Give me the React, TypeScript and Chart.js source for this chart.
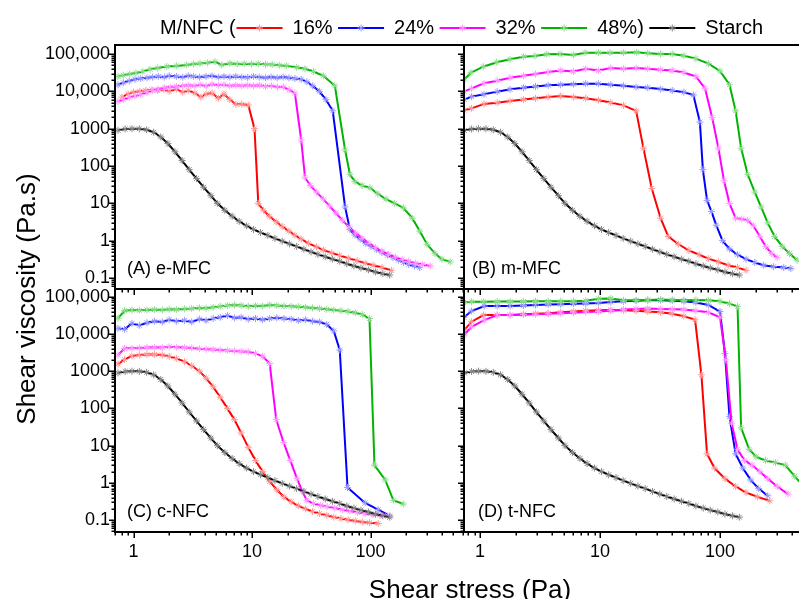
import React, { useEffect, useRef } from "react";
import { Chart, registerables } from "chart.js";

Chart.register(...registerables);

type Pt = [number, number];

const FONT = '"Liberation Sans", Arial, Helvetica, sans-serif';

const legendPrefix = "M/NFC (";
const seriesNames = ["16%", "24%", "32%", "48%)", "Starch"];
const seriesColors = ["#ff0000", "#0000ff", "#ff00ff", "#00b400", "#000000"];
const markerColors = ["#ff9a9a", "#9a9aff", "#ff9aff", "#8fdc8f", "#8a8a8a"];

const xTickValues = [1, 10, 100];
const xTickLabels = ["1", "10", "100"];
const yTickValues = [0.1, 1, 10, 100, 1000, 10000, 100000];
const yTickLabels = ["0.1", "1", "10", "100", "1000", "10,000", "100,000"];

const panelTitles = ["(A) e-MFC", "(B) m-MFC", "(C) c-NFC", "(D) t-NFC"];
const xAxisTitle = "Shear stress (Pa)";
const yAxisTitle = "Shear viscosity (Pa.s)";

// Starch (same in every panel)
const starch: Pt[] = [[0.74,900],[0.85,980],[0.97,1000],[1.12,990],[1.29,930],[1.48,800],[1.7,600],[1.95,400],[2.24,240],[2.57,140],[2.95,80],[3.4,46],[3.9,27],[4.5,16],[5.1,10],[5.9,6.5],[6.8,4.5],[7.8,3.3],[9.0,2.5],[10.3,2.0],[11.8,1.65],[13.6,1.38],[15.6,1.15],[18,0.97],[20.7,0.82],[23.8,0.7],[27.4,0.59],[31.5,0.5],[36,0.43],[41.5,0.37],[47.7,0.32],[55,0.28],[63,0.24],[72.5,0.21],[83,0.185],[96,0.165],[110,0.145],[127,0.13],[145,0.12]];

// (A) e-MFC
const a16: Pt[] = [[0.8,7000],[0.9,8500],[1.0,9500],[1.13,10000],[1.27,10500],[1.43,11000],[1.6,10500],[1.8,11000],[2.0,10000],[2.3,11500],[2.6,9500],[2.9,10500],[3.3,9000],[3.7,7000],[4.1,8500],[4.6,9000],[5.2,6500],[5.8,8500],[6.5,6000],[7.3,4500],[8.2,4500],[9.3,4300],[10.5,1000],[11.3,10],[12.5,6.5],[14,4.5],[16,3.2],[18,2.4],[20.5,1.8],[23,1.4],[26,1.1],[30,0.85],[35,0.68],[40,0.56],[47,0.47],[55,0.4],[65,0.34],[77,0.29],[90,0.25],[105,0.22],[125,0.19],[150,0.16]];
const a24: Pt[] = [[0.74,15000],[0.82,17000],[0.92,19000],[1.03,21000],[1.15,22000],[1.3,23000],[1.45,24000],[1.62,25000],[1.82,24000],[2.0,26000],[2.3,25000],[2.6,24000],[2.9,26000],[3.2,25000],[3.6,24000],[4.1,25000],[4.6,26000],[5.2,24000],[5.8,25000],[6.5,24000],[7.3,25000],[8.2,24000],[9.2,23500],[10.3,25000],[11.5,24000],[13,23000],[14.5,24000],[16.3,23000],[18.3,24000],[20.5,23000],[23,22000],[26,21000],[29,18000],[32.5,14000],[37,10000],[42,6000],[48,3000],[61,8],[67,2.0],[74,1.4],[82,1.1],[91,0.85],[101,0.7],[112,0.58],[125,0.48],[139,0.41],[155,0.35],[172,0.3],[190,0.26],[210,0.23],[235,0.21],[260,0.19]];
const a32: Pt[] = [[0.74,5300],[0.82,6000],[0.92,6800],[1.03,7500],[1.15,8200],[1.3,9200],[1.45,10500],[1.62,11500],[1.82,12500],[2.04,13000],[2.3,13500],[2.6,14000],[2.9,14500],[3.25,14000],[3.65,15000],[4.1,14000],[4.6,15500],[5.2,14500],[5.8,15000],[6.5,14000],[7.3,14500],[8.2,14000],[9.2,14500],[10.3,14000],[11.6,14500],[13,13500],[14.6,14000],[16.4,13000],[18.4,13000],[20.6,11000],[23,9000],[26,500],[28,50],[31,30],[35,20],[40,13],[45,8.5],[51,5.5],[58,3.5],[66,2.3],[75,1.6],[85,1.15],[97,0.85],[110,0.65],[125,0.52],[142,0.43],[162,0.36],[185,0.31],[210,0.28],[240,0.25],[275,0.23],[320,0.21]];
const a48: Pt[] = [[0.74,25000],[0.82,27000],[0.93,29000],[1.05,31000],[1.2,34000],[1.38,39000],[1.6,42000],[1.91,46000],[2.3,48000],[2.81,51000],[3.2,54000],[3.64,56000],[4.2,58000],[4.87,62000],[5.55,51000],[6.5,56000],[7.5,54000],[8.6,55000],[9.9,54000],[11.3,55000],[13,53000],[14.8,52000],[17,50000],[19.6,48000],[23.8,44000],[28,40000],[33,34000],[40,26000],[50,14000],[61,270],[67,60],[74,38],[85,30],[99,26],[115,18],[135,13],[160,10],[190,7.5],[225,4],[260,1.8],[300,0.8],[350,0.45],[400,0.32],[470,0.27]];

// (B) m-MFC
const b16: Pt[] = [[0.74,3100],[0.85,3500],[1.08,4600],[1.39,4950],[1.78,5500],[2.3,6000],[2.9,6500],[3.7,7000],[4.7,7500],[6.0,7000],[7.6,6500],[9.7,5800],[12.3,5000],[15.7,4200],[20,3000],[23,300],[27,25],[32,4],[37,1.3],[45,0.8],[55,0.55],[67,0.42],[80,0.33],[97,0.27],[117,0.22],[140,0.19],[165,0.16]];
const b24: Pt[] = [[0.74,6000],[0.85,7200],[1.08,8300],[1.39,9800],[1.78,11300],[2.3,12500],[2.9,13500],[3.7,14500],[4.7,15000],[6.0,15500],[7.6,16000],[9.7,16000],[12.3,15000],[15.7,14000],[20,13000],[25,12500],[32,11500],[40,10500],[50,9500],[60,8000],[68,1500],[72,80],[78,12],[85,6],[93,2.6],[105,1.0],[120,0.6],[140,0.42],[165,0.32],[195,0.26],[230,0.22],[280,0.2],[340,0.19],[390,0.18]];
const b32: Pt[] = [[0.74,10000],[0.85,12000],[1.08,16400],[1.39,19300],[1.78,23200],[2.3,26000],[2.9,29000],[3.7,33000],[4.7,36000],[6.0,34000],[7.6,40000],[9.7,36000],[12.3,42000],[15.7,40000],[20,42000],[25,40000],[32,38000],[40,36000],[50,32000],[63,25000],[75,12000],[86,2000],[97,300],[108,40],[120,10],[135,4],[152,3.8],[170,3.5],[190,2.5],[215,1.3],[240,0.7],[270,0.45],[300,0.35]];
const b48: Pt[] = [[0.73,20000],[0.84,31500],[1.065,45700],[1.377,60000],[1.778,72000],[2.3,84700],[2.87,88400],[3.6,98000],[4.64,100000],[6.0,94000],[7.5,108000],[9.7,108000],[12.1,108000],[15.7,108000],[20.2,111000],[25,105000],[32,100000],[40,100000],[50,90000],[63,75000],[80,55000],[100,35000],[120,15000],[135,3000],[150,300],[170,60],[195,20],[220,8],[250,3],[285,1.3],[330,0.7],[380,0.45],[440,0.3]];

// (C) c-NFC
const c16: Pt[] = [[0.74,1550],[0.84,2070],[0.97,2550],[1.12,2700],[1.3,2800],[1.5,2800],[1.75,2700],[2.0,2500],[2.3,2200],[2.7,1800],[3.1,1400],[3.6,1000],[4.1,650],[4.7,380],[5.4,200],[6.2,100],[7.1,50],[8.1,22],[9.3,9],[10.7,4],[12.3,2],[14.1,1.1],[16.2,0.65],[18.6,0.42],[21.4,0.31],[24.6,0.24],[28.2,0.2],[32.4,0.17],[37.2,0.15],[42.7,0.135],[49,0.12],[56.3,0.11],[64.7,0.102],[74.3,0.095],[85.3,0.089],[98,0.085],[116,0.081]];
const c24: Pt[] = [[0.74,14100],[0.84,13300],[0.97,19200],[1.12,17000],[1.3,20000],[1.5,22000],[1.75,21000],[2.0,24000],[2.3,22000],[2.7,23000],[3.1,21000],[3.6,25000],[4.1,23000],[4.7,26000],[5.4,28000],[6.2,31000],[7.1,27000],[8.1,28000],[9.3,25000],[10.7,26000],[12.3,24000],[14.1,26000],[16.2,27000],[18.6,26000],[21.4,25000],[24.6,23000],[28.2,24000],[32.4,22000],[37.2,21000],[42.7,18000],[49,12000],[55,3700],[64,0.75],[90,0.29],[116,0.19],[146,0.13]];
const c32: Pt[] = [[0.74,2700],[0.84,4100],[0.97,4100],[1.12,4200],[1.3,4300],[1.5,4400],[1.75,4300],[2.0,4500],[2.3,4400],[2.7,4300],[3.1,4200],[3.6,4000],[4.1,3900],[4.7,3800],[5.4,3700],[6.2,3600],[7.1,3500],[8.1,3400],[9.3,3300],[10.7,3000],[12.3,2500],[14.1,1600],[16,50],[18.5,12],[21,4],[24,1.3],[26.5,0.6],[29,0.34],[33,0.28],[38,0.25],[43,0.23],[50,0.21],[58,0.19],[67,0.175],[78,0.16],[90,0.15],[105,0.14],[120,0.135],[140,0.13]];
const c48: Pt[] = [[0.74,26300],[0.84,42000],[0.97,44000],[1.12,43000],[1.3,44000],[1.5,45000],[1.75,44000],[2.0,46000],[2.3,45000],[2.7,47000],[3.1,48000],[3.6,50000],[4.1,49000],[4.7,52000],[5.4,55000],[6.2,58000],[7.1,60000],[8.1,58000],[9.3,55000],[10.7,57000],[12.3,56000],[14.1,60000],[16.2,58000],[18.6,56000],[21.4,55000],[24.6,54000],[28.2,52000],[32.4,50000],[37.2,48000],[42.7,46000],[49,44000],[56.3,42000],[64.7,40000],[74.3,37000],[85.3,33000],[98,26000],[108,3],[133,1.2],[156,0.34],[189,0.27]];

// (D) t-NFC
const d16: Pt[] = [[0.74,12700],[0.85,21300],[1.07,32200],[1.39,32200],[1.78,32200],[2.3,34000],[2.9,35000],[3.7,36000],[4.7,38000],[6.0,40000],[7.6,42000],[9.7,43000],[12.3,44000],[15.7,43000],[20,42000],[25,40000],[32,38000],[40,35000],[50,30000],[62,24000],[70,800],[78,6],[90,2.5],[110,1.3],[135,0.8],[165,0.55],[205,0.42],[260,0.33]];
const d24: Pt[] = [[0.735,27900],[0.85,41300],[1.085,56000],[1.39,56000],[1.78,56000],[2.3,58000],[2.9,60000],[3.7,62000],[4.7,63000],[6.0,65000],[7.6,66000],[9.7,68000],[12.3,72000],[15.7,75000],[20,78000],[25,80000],[32,80000],[40,78000],[50,75000],[63,70000],[80,60000],[100,40000],[110,3000],[120,60],[135,6],[155,2.5],[180,1.2],[210,0.7],[250,0.45]];
const d32: Pt[] = [[0.735,9300],[0.85,15600],[1.085,23600],[1.39,32200],[1.78,32200],[2.3,33000],[2.9,34000],[3.7,35000],[4.7,36000],[6.0,37000],[7.6,39000],[9.7,40000],[12.3,42000],[15.7,45000],[20,47000],[25,48000],[32,47000],[40,46000],[50,45000],[63,42000],[80,38000],[100,28000],[112,2000],[125,40],[140,8],[160,4],[185,3],[215,2],[250,1.3],[300,0.8],[370,0.5]];
const d48: Pt[] = [[0.73,70000],[0.85,73000],[1.07,73000],[1.39,74000],[1.78,74000],[2.3,74000],[2.9,75000],[3.7,75000],[4.7,76000],[6.0,76000],[7.6,78000],[9.7,88000],[12.3,90000],[15.7,80000],[20,80000],[25,82000],[32,84000],[40,82000],[50,80000],[63,82000],[80,80000],[100,75000],[120,65000],[140,55000],[150,30],[175,8],[200,5],[240,4],[290,3.5],[350,3],[420,1.5],[500,0.8]];

// ---- layout (pixels, not data) ----
const CW = 830;
const CH = 599;
const Y_AXIS_W = 100;
const X_AXIS_H = 45;

type Panel = {
  title: string;
  series: Pt[][];
  area: { left: number; top: number; right: number; bottom: number };
  xMin: number; xMax: number; yMin: number; yMax: number;
  showX: boolean; showY: boolean; titleDx: number;
};

const panels: Panel[] = [
  { title: panelTitles[0], series: [a16, a24, a32, a48, starch], area: { left: 115, top: 45, right: 464, bottom: 289 }, xMin: 0.698, xMax: 615, yMin: 0.0507, yMax: 174000, showX: false, showY: true, titleDx: 12 },
  { title: panelTitles[1], series: [b16, b24, b32, b48, starch], area: { left: 464, top: 45, right: 813, bottom: 289 }, xMin: 0.735, xMax: 596, yMin: 0.0507, yMax: 174000, showX: false, showY: false, titleDx: 8 },
  { title: panelTitles[2], series: [c16, c24, c32, c48, starch], area: { left: 115, top: 289, right: 464, bottom: 532 }, xMin: 0.698, xMax: 615, yMin: 0.0479, yMax: 161000, showX: true, showY: true, titleDx: 12 },
  { title: panelTitles[3], series: [d16, d24, d32, d48, starch], area: { left: 464, top: 289, right: 813, bottom: 532 }, xMin: 0.735, xMax: 596, yMin: 0.0479, yMax: 161000, showX: true, showY: false, titleDx: 14 },
];

function drawStar(ctx: CanvasRenderingContext2D, x: number, y: number, r: number) {
  ctx.beginPath();
  ctx.moveTo(x - r, y); ctx.lineTo(x + r, y);
  ctx.moveTo(x, y - r); ctx.lineTo(x, y + r);
  const d = r * 0.7071;
  ctx.moveTo(x - d, y - d); ctx.lineTo(x + d, y + d);
  ctx.moveTo(x - d, y + d); ctx.lineTo(x + d, y - d);
  ctx.stroke();
}

const framePlugin = {
  id: "panelFrame",
  afterDatasetsDraw(chart: any) {
    const ctx: CanvasRenderingContext2D = chart.ctx;
    const { left, right, top, bottom } = chart.chartArea;
    const xs = chart.scales.x;
    const ys = chart.scales.y;
    const title: string = chart.options.plugins.panelFrame.title;
    const titleDx: number = chart.options.plugins.panelFrame.titleDx;
    ctx.save();
    ctx.strokeStyle = "#000";
    ctx.lineWidth = 2;
    ctx.strokeRect(left, top, right - left, bottom - top);
    ctx.lineWidth = 1.5;
    for (let e = -2; e <= 6; e++) {
      for (let m = 1; m <= 9; m++) {
        const v = m * Math.pow(10, e);
        if (v >= ys.min && v <= ys.max) {
          const py = Math.round(ys.getPixelForValue(v)) + 0.25;
          const len = m === 1 ? 6 : 3.5;
          ctx.beginPath(); ctx.moveTo(left, py); ctx.lineTo(left - len, py); ctx.stroke();
        }
        if (v >= xs.min && v <= xs.max) {
          const px = Math.round(xs.getPixelForValue(v)) + 0.25;
          const len = m === 1 ? 6 : 3.5;
          ctx.beginPath(); ctx.moveTo(px, bottom); ctx.lineTo(px, bottom + len); ctx.stroke();
        }
      }
    }
    ctx.fillStyle = "#000";
    ctx.font = `18px ${FONT}`;
    ctx.textAlign = "left";
    ctx.textBaseline = "middle";
    ctx.fillText(title, left + titleDx, bottom - 20);
    ctx.restore();
  },
};

const decorPlugin = {
  id: "figureDecor",
  afterDraw(chart: any) {
    const ctx: CanvasRenderingContext2D = chart.ctx;
    ctx.save();
    ctx.fillStyle = "#000";
    ctx.font = `20px ${FONT}`;
    ctx.textAlign = "left";
    ctx.textBaseline = "middle";
    const ly = 28;
    let x = 160;
    ctx.fillText(legendPrefix, x, ly);
    x += ctx.measureText(legendPrefix).width + 1;
    seriesNames.forEach((name, i) => {
      ctx.strokeStyle = seriesColors[i];
      ctx.lineWidth = 2;
      ctx.beginPath(); ctx.moveTo(x, ly); ctx.lineTo(x + 46, ly); ctx.stroke();
      ctx.strokeStyle = markerColors[i];
      ctx.lineWidth = 1;
      drawStar(ctx, x + 23, ly, 3.5);
      x += 56;
      ctx.fillText(name, x, ly);
      x += ctx.measureText(name).width + 5.5;
    });
    ctx.font = `26px ${FONT}`;
    ctx.textAlign = "center";
    ctx.textBaseline = "alphabetic";
    ctx.fillText(xAxisTitle, 470, 598);
    ctx.translate(35, 299);
    ctx.rotate(-Math.PI / 2);
    ctx.fillText(yAxisTitle, 0, 0);
    ctx.restore();
  },
};

function makeConfig(p: Panel, withDecor: boolean): any {
  const yW = p.showY ? Y_AXIS_W : 10;
  return {
    type: "scatter",
    data: {
      datasets: p.series.map((pts, i) => ({
        label: seriesNames[i],
        data: pts.map(([x, y]) => ({ x, y })),
        showLine: true,
        borderColor: seriesColors[i],
        borderWidth: 2,
        tension: 0,
        pointStyle: "star",
        pointRadius: 3.5,
        pointBorderWidth: 1,
        pointBorderColor: markerColors[i],
        pointBackgroundColor: markerColors[i],
        order: 4 - i,
      })),
    },
    options: {
      responsive: false,
      animation: false,
      events: [],
      layout: {
        padding: {
          left: p.area.left - yW,
          top: p.area.top,
          right: CW - p.area.right,
          bottom: CH - p.area.bottom - X_AXIS_H,
        },
      },
      plugins: {
        legend: { display: false },
        tooltip: { enabled: false },
        title: { display: false },
        panelFrame: { title: p.title, titleDx: p.titleDx },
      },
      scales: {
        x: {
          type: "logarithmic",
          min: p.xMin,
          max: p.xMax,
          bounds: "data",
          grid: { display: false, drawTicks: false },
          border: { display: false },
          ticks: {
            display: p.showX,
            autoSkip: false,
            maxRotation: 0,
            padding: 9,
            color: "#000",
            font: { family: FONT, size: 18 },
            callback: (_v: any, i: number) => xTickLabels[i],
          },
          afterBuildTicks: (s: any) => {
            s.ticks = xTickValues.map((v) => ({ value: v }));
          },
          afterFit: (s: any) => {
            s.height = X_AXIS_H;
          },
        },
        y: {
          type: "logarithmic",
          min: p.yMin,
          max: p.yMax,
          bounds: "data",
          grid: { display: false, drawTicks: false },
          border: { display: false },
          ticks: {
            display: p.showY,
            autoSkip: false,
            padding: 5,
            color: "#000",
            font: { family: FONT, size: 18 },
            callback: (_v: any, i: number) => yTickLabels[i],
          },
          afterBuildTicks: (s: any) => {
            s.ticks = yTickValues.map((v) => ({ value: v }));
          },
          afterFit: (s: any) => {
            s.width = yW;
          },
        },
      },
    },
    plugins: withDecor ? [framePlugin, decorPlugin] : [framePlugin],
  };
}

export default function App() {
  const canvases = useRef<(HTMLCanvasElement | null)[]>([]);
  useEffect(() => {
    const charts = panels.map((p, i) => new Chart(canvases.current[i] as HTMLCanvasElement, makeConfig(p, i === 0)));
    return () => charts.forEach((c) => c.destroy());
  }, []);
  return (
    <div style={{ position: "fixed", left: 0, top: 0, width: 799, height: 599, overflow: "hidden", background: "#fff" }}>
      {panels.map((_, i) => (
        <canvas
          key={i}
          ref={(el) => { canvases.current[i] = el; }}
          width={CW}
          height={CH}
          style={{ position: "absolute", left: 0, top: 0, width: CW, height: CH }}
        />
      ))}
    </div>
  );
}
